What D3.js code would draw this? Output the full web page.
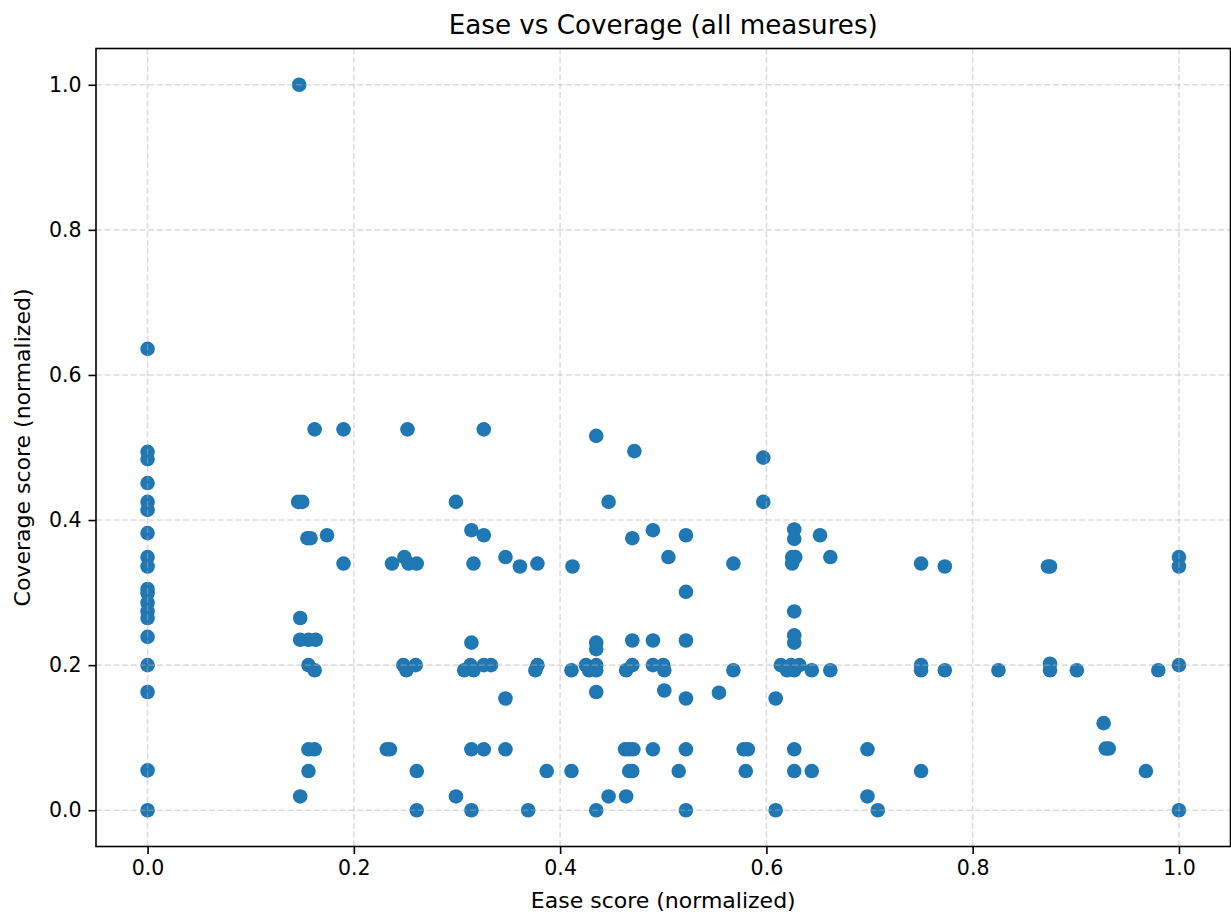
<!DOCTYPE html>
<html>
<head>
<meta charset="utf-8">
<script src="https://cdn.jsdelivr.net/npm/d3@7"></script>
<style>
  html, body { margin: 0; padding: 0; background: #fff; }
  svg { display: block; }
  text { font-family: "DejaVu Sans", sans-serif; fill: #000; }
</style>
</head>
<body>
<svg id="chart" width="1231" height="918"></svg>
<script>
// Normalized scores for every measure: ease (x) and coverage (y)
const ease = [
  0, 0, 0, 0, 0, 0, 0, 0, 0, 0, 0, 0, 0, 0, 0, 0, 0, 0, 0,
  0.147, 0.146, 0.150, 0.162, 0.19, 0.155, 0.158, 0.174, 0.19, 0.148,
  0.148, 0.156, 0.163, 0.156, 0.162, 0.156, 0.162, 0.156, 0.148,
  0.232, 0.235, 0.237, 0.249, 0.253, 0.261, 0.252, 0.248, 0.251, 0.260, 0.261, 0.261,
  0.326, 0.299, 0.314, 0.326, 0.316, 0.347, 0.361, 0.378, 0.314,
  0.307, 0.313, 0.316, 0.326, 0.333, 0.378, 0.376, 0.347, 0.314, 0.326, 0.347,
  0.387, 0.299, 0.314, 0.369,
  0.412, 0.435, 0.472, 0.447, 0.470, 0.49, 0.505, 0.522,
  0.411, 0.425, 0.428, 0.435, 0.435, 0.435, 0.435, 0.435, 0.411, 0.447, 0.464, 0.435,
  0.470, 0.49, 0.464, 0.47, 0.49, 0.5, 0.501, 0.501, 0.463, 0.467, 0.471, 0.49, 0.47, 0.467,
  0.597, 0.597, 0.568, 0.522, 0.522, 0.568, 0.522, 0.554, 0.609,
  0.522, 0.578, 0.582, 0.515, 0.58, 0.522, 0.609,
  0.627, 0.627, 0.652, 0.625, 0.628, 0.625, 0.662, 0.627, 0.627, 0.627,
  0.614, 0.62, 0.624, 0.627, 0.632, 0.644, 0.662, 0.627, 0.627, 0.644,
  0.75, 0.773, 0.698, 0.698, 0.708, 0.75, 0.75, 0.773, 0.75,
  0.875, 0.873, 1.0, 1.0, 0.825, 0.875, 0.875, 0.901, 0.98, 1.0,
  0.927, 0.932, 0.929, 0.968, 1.0
];
const coverage = [
  0.636, 0.494, 0.484, 0.451, 0.425, 0.414, 0.382, 0.349, 0.336, 0.305, 0.299, 0.286, 0.274, 0.265, 0.239, 0.2, 0.163, 0.055, 0,
  1.0, 0.425, 0.425, 0.525, 0.525, 0.375, 0.375, 0.379, 0.34, 0.265,
  0.235, 0.235, 0.235, 0.2, 0.193, 0.084, 0.084, 0.054, 0.019,
  0.084, 0.084, 0.34, 0.349, 0.34, 0.34, 0.525, 0.2, 0.193, 0.2, 0.054, 0,
  0.525, 0.425, 0.386, 0.379, 0.34, 0.349, 0.336, 0.34, 0.231,
  0.193, 0.2, 0.193, 0.2, 0.2, 0.2, 0.193, 0.154, 0.084, 0.084, 0.084,
  0.054, 0.019, 0, 0,
  0.336, 0.516, 0.495, 0.425, 0.375, 0.386, 0.349, 0.379,
  0.193, 0.2, 0.193, 0.2, 0.193, 0.231, 0.222, 0.163, 0.054, 0.019, 0.019, 0,
  0.234, 0.234, 0.193, 0.2, 0.2, 0.2, 0.193, 0.165, 0.084, 0.084, 0.084, 0.084, 0.054, 0.054,
  0.486, 0.425, 0.34, 0.301, 0.234, 0.193, 0.154, 0.162, 0.154,
  0.084, 0.084, 0.084, 0.054, 0.054, 0, 0,
  0.387, 0.374, 0.379, 0.349, 0.349, 0.34, 0.349, 0.274, 0.241, 0.231,
  0.2, 0.193, 0.2, 0.193, 0.2, 0.193, 0.193, 0.084, 0.054, 0.054,
  0.34, 0.336, 0.084, 0.019, 0, 0.2, 0.193, 0.193, 0.054,
  0.336, 0.336, 0.349, 0.336, 0.193, 0.202, 0.193, 0.193, 0.193, 0.2,
  0.12, 0.085, 0.085, 0.054, 0
];
const xTicks = [0, 0.2, 0.4, 0.6, 0.8, 1.0];
const yTicks = [0, 0.2, 0.4, 0.6, 0.8, 1.0];
const titleText = "Ease vs Coverage (all measures)";
const xLabel = "Ease score (normalized)";
const yLabel = "Coverage score (normalized)";

const svg = d3.select("#chart");
const plot = { left: 96, right: 1230.5, top: 48.5, bottom: 846.5 };

const x = d3.scaleLinear().domain([-0.05, 1.05]).range([plot.left, plot.right]);
const y = d3.scaleLinear().domain([-0.05, 1.05]).range([plot.bottom, plot.top]);

const points = ease.map((e, i) => ({ e, c: coverage[i] }));

// scatter markers
svg.append("g")
  .selectAll("circle")
  .data(points)
  .join("circle")
  .attr("cx", d => x(d.e))
  .attr("cy", d => y(d.c))
  .attr("r", 7.3)
  .attr("fill", "#1f77b4");

// dashed grid, drawn over the markers
const grid = svg.append("g")
  .attr("stroke", "#b0b0b0")
  .attr("stroke-opacity", 0.42)
  .attr("stroke-width", 1.6)
  .attr("stroke-dasharray", "6,2.7");
grid.selectAll("line.gx").data(xTicks).join("line")
  .attr("class", "gx")
  .attr("x1", d => x(d)).attr("x2", d => x(d))
  .attr("y1", plot.top).attr("y2", plot.bottom);
grid.selectAll("line.gy").data(yTicks).join("line")
  .attr("class", "gy")
  .attr("y1", d => y(d)).attr("y2", d => y(d))
  .attr("x1", plot.left).attr("x2", plot.right);

// axes
const fmt = d3.format(".1f");
const xAxis = svg.append("g")
  .attr("transform", `translate(0,${plot.bottom})`)
  .call(d3.axisBottom(x).tickValues(xTicks).tickFormat(fmt).tickSize(7.5).tickPadding(6));
const yAxis = svg.append("g")
  .attr("transform", `translate(${plot.left},0)`)
  .call(d3.axisLeft(y).tickValues(yTicks).tickFormat(fmt).tickSize(7.5).tickPadding(7));

[xAxis, yAxis].forEach(a => {
  a.select(".domain").remove();
  a.selectAll(".tick line").attr("stroke", "#000").attr("stroke-width", 1.6);
  a.selectAll(".tick text").attr("font-size", 20.5).attr("font-family", "DejaVu Sans").attr("fill", "#1a1a1a");
});

// frame
svg.append("rect")
  .attr("x", plot.left).attr("y", plot.top)
  .attr("width", plot.right - plot.left).attr("height", plot.bottom - plot.top)
  .attr("fill", "none").attr("stroke", "#000").attr("stroke-width", 1.6);

// title and axis labels
const cx = (plot.left + plot.right) / 2;
svg.append("text")
  .attr("x", cx).attr("y", 34)
  .attr("text-anchor", "middle")
  .attr("font-size", 26.2)
  .text(titleText);
svg.append("text")
  .attr("x", cx).attr("y", 908)
  .attr("text-anchor", "middle")
  .attr("font-size", 22)
  .attr("fill", "#1a1a1a")
  .text(xLabel);
svg.append("text")
  .attr("transform", `translate(30,${(plot.top + plot.bottom) / 2}) rotate(-90)`)
  .attr("text-anchor", "middle")
  .attr("font-size", 22)
  .attr("fill", "#1a1a1a")
  .text(yLabel);
</script>
</body>
</html>
